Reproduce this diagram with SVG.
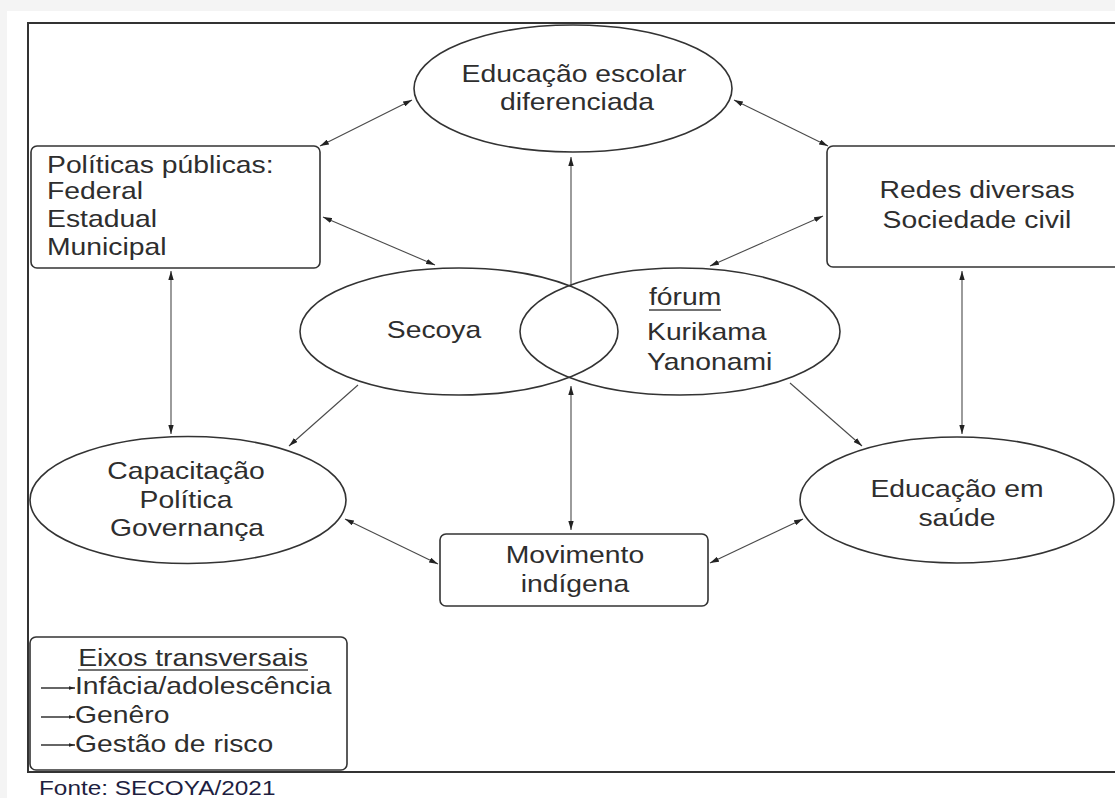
<svg xmlns="http://www.w3.org/2000/svg" width="1115" height="798" viewBox="0 0 1115 798">
<defs>
<style>
.t{font-family:"Liberation Sans",Arial,sans-serif;font-size:24px;fill:#2e2e2e}
.m{text-anchor:middle}
.node{fill:#fff;stroke:#333;stroke-width:1.6}
.c{stroke:#4a4a4a;stroke-width:1.1;fill:none}
.lg{stroke:#333;stroke-width:1.4;fill:none}
.ul{stroke:#444;stroke-width:1.6}
</style>
<marker id="ah" viewBox="0 0 10 6" refX="10" refY="3" markerWidth="9" markerHeight="5.4" markerUnits="userSpaceOnUse" orient="auto-start-reverse">
<path d="M0,0 L10,3 L0,6 z" fill="#222"/>
</marker>
<marker id="ahs" viewBox="0 0 10 6" refX="10" refY="3" markerWidth="6" markerHeight="4.5" markerUnits="userSpaceOnUse" orient="auto">
<path d="M0,0 L10,3 L0,6 z" fill="#222"/>
</marker>
</defs>
<rect x="0" y="0" width="1115" height="798" fill="#f4f4f4"/>
<rect x="7" y="11" width="1108" height="787" fill="#fff"/>
<rect x="28" y="23" width="1100" height="749" fill="none" stroke="#333" stroke-width="2"/>

<g id="connectors">
<line class="c" x1="320" y1="146" x2="412" y2="100" marker-start="url(#ah)" marker-end="url(#ah)"/>
<line class="c" x1="734" y1="100" x2="828" y2="146" marker-start="url(#ah)" marker-end="url(#ah)"/>
<line class="c" x1="323" y1="217" x2="435" y2="265" marker-start="url(#ah)" marker-end="url(#ah)"/>
<line class="c" x1="823" y1="216" x2="710" y2="266" marker-start="url(#ah)" marker-end="url(#ah)"/>
<line class="c" x1="571" y1="287" x2="571" y2="157" marker-end="url(#ah)"/>
<line class="c" x1="171" y1="271" x2="171" y2="434" marker-start="url(#ah)" marker-end="url(#ah)"/>
<line class="c" x1="962" y1="271" x2="962" y2="434" marker-start="url(#ah)" marker-end="url(#ah)"/>
<line class="c" x1="358" y1="385" x2="289" y2="446" marker-end="url(#ah)"/>
<line class="c" x1="790" y1="383" x2="862" y2="446" marker-end="url(#ah)"/>
<line class="c" x1="571" y1="386" x2="571" y2="530" marker-start="url(#ah)" marker-end="url(#ah)"/>
<line class="c" x1="345" y1="519" x2="438" y2="564" marker-start="url(#ah)" marker-end="url(#ah)"/>
<line class="c" x1="710" y1="563" x2="803" y2="519" marker-start="url(#ah)" marker-end="url(#ah)"/>
</g>

<g id="educacao-escolar">
<ellipse class="node" cx="573" cy="88.5" rx="159" ry="63.5"/>
<text class="t m" transform="translate(574 0) scale(1.18 1)" x="0" y="82">Educação escolar</text>
<text class="t m" transform="translate(577 0) scale(1.18 1)" x="0" y="110">diferenciada</text>
</g>

<g id="politicas">
<rect class="node" x="31" y="146" width="289" height="122" rx="6"/>
<text class="t" transform="translate(47 0) scale(1.18 1)" x="0" y="173">Políticas públicas:</text>
<text class="t" transform="translate(47 0) scale(1.18 1)" x="0" y="199">Federal</text>
<text class="t" transform="translate(47 0) scale(1.18 1)" x="0" y="227">Estadual</text>
<text class="t" transform="translate(47 0) scale(1.18 1)" x="0" y="255">Municipal</text>
</g>

<g id="redes">
<rect class="node" x="827" y="146" width="300" height="121" rx="6"/>
<text class="t m" transform="translate(977 0) scale(1.18 1)" x="0" y="198">Redes diversas</text>
<text class="t m" transform="translate(977 0) scale(1.18 1)" x="0" y="228">Sociedade civil</text>
</g>

<g id="secoya">
<ellipse cx="459" cy="331.5" rx="159" ry="63.5" fill="none" stroke="#333" stroke-width="1.6"/>
<text class="t m" transform="translate(434 0) scale(1.18 1)" x="0" y="338">Secoya</text>
</g>

<g id="forum">
<ellipse cx="680" cy="331.5" rx="160" ry="63.5" fill="none" stroke="#333" stroke-width="1.6"/>
<text class="t" transform="translate(649 0) scale(1.18 1)" x="0" y="305">fórum</text>
<line class="ul" x1="649" y1="310" x2="721" y2="310"/>
<text class="t" transform="translate(647 0) scale(1.18 1)" x="0" y="340">Kurikama</text>
<text class="t" transform="translate(647 0) scale(1.18 1)" x="0" y="370">Yanonami</text>
</g>

<g id="capacitacao">
<ellipse class="node" cx="188" cy="500" rx="158" ry="63.5"/>
<text class="t m" transform="translate(186 0) scale(1.18 1)" x="0" y="479">Capacitação</text>
<text class="t m" transform="translate(186 0) scale(1.18 1)" x="0" y="508">Política</text>
<text class="t m" transform="translate(187 0) scale(1.18 1)" x="0" y="536">Governança</text>
</g>

<g id="educacao-saude">
<ellipse class="node" cx="957" cy="500" rx="157" ry="63"/>
<text class="t m" transform="translate(957 0) scale(1.18 1)" x="0" y="497">Educação em</text>
<text class="t m" transform="translate(957 0) scale(1.18 1)" x="0" y="526">saúde</text>
</g>

<g id="movimento">
<rect class="node" x="440" y="534" width="268" height="72" rx="6"/>
<text class="t m" transform="translate(575 0) scale(1.18 1)" x="0" y="563">Movimento</text>
<text class="t m" transform="translate(575 0) scale(1.18 1)" x="0" y="592">indígena</text>
</g>

<g id="legenda">
<rect class="node" x="30" y="637" width="317" height="133" rx="6"/>
<text class="t m" transform="translate(193 0) scale(1.18 1)" x="0" y="666">Eixos transversais</text>
<line class="ul" x1="78" y1="670" x2="308" y2="670"/>
<line class="lg" x1="41" y1="688" x2="75" y2="688" marker-end="url(#ahs)"/>
<text class="t" transform="translate(75 0) scale(1.18 1)" x="0" y="694">Infâcia/adolescência</text>
<line class="lg" x1="41" y1="717" x2="75" y2="717" marker-end="url(#ahs)"/>
<text class="t" transform="translate(75 0) scale(1.18 1)" x="0" y="723">Genêro</text>
<line class="lg" x1="41" y1="745" x2="75" y2="745" marker-end="url(#ahs)"/>
<text class="t" transform="translate(75 0) scale(1.18 1)" x="0" y="752">Gestão de risco</text>
</g>

<text transform="translate(39 0) scale(1.16 1)" x="0" y="795" style="font-family:'Liberation Sans',Arial,sans-serif;font-size:21px;fill:#1e1e40">Fonte: SECOYA/2021</text>
</svg>
